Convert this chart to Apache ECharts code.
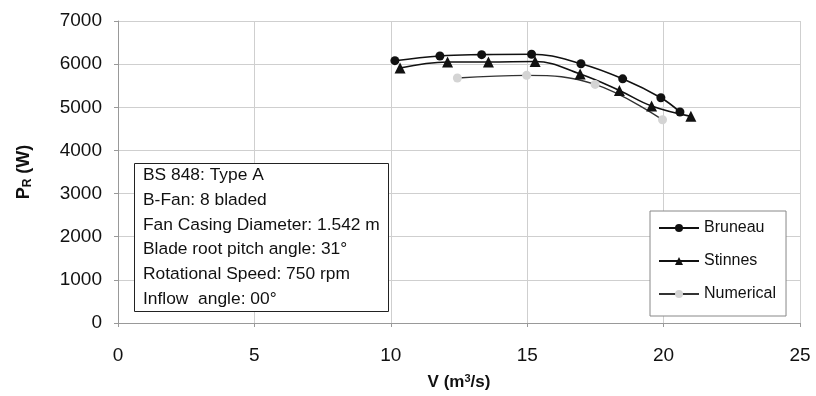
<!DOCTYPE html>
<html><head><meta charset="utf-8">
<script src="https://cdn.jsdelivr.net/npm/echarts@6/dist/echarts.min.js"></script>
<style>html,body{margin:0;padding:0;background:#fff}#c{width:816px;height:396px}</style>
</head><body><div id="c"></div>
<script>
var bruneauV = [10.15, 11.8, 13.33, 15.16, 16.97, 18.5, 19.9, 20.6];
var bruneauP = [6080, 6190, 6220, 6230, 6010, 5660, 5220, 4890];
var stinnesV = [10.34, 12.08, 13.58, 15.29, 16.94, 18.38, 19.56, 21.0];
var stinnesP = [5910, 6050, 6050, 6060, 5770, 5390, 5030, 4790];
var numericalV = [12.44, 14.98, 17.49, 19.96];
var numericalP = [5680, 5740, 5530, 4710];
var xTicks = [0, 5, 10, 15, 20, 25];
var yTicks = [0, 1000, 2000, 3000, 4000, 5000, 6000, 7000];
var infoLines = ['BS 848: Type A', 'B-Fan: 8 bladed', 'Fan Casing Diameter: 1.542 m',
  'Blade root pitch angle: 31°', 'Rotational Speed: 750 rpm', 'Inflow  angle: 00°'];

function pairs(a, b) { return a.map(function (v, i) { return [v, b[i]]; }); }
var font = 'Liberation Sans, Arial, sans-serif';
var chart = echarts.init(document.getElementById('c'), null, {renderer: 'canvas'});
chart.setOption({
  animation: false,
  backgroundColor: '#fff',
  grid: {left: 118, right: 16, top: 21, bottom: 71},
  xAxis: {
    type: 'value', min: xTicks[0], max: xTicks[xTicks.length - 1], interval: 5,
    name: 'V (m{s|3}/s)', nameLocation: 'middle', nameGap: 50,
    nameTextStyle: {fontFamily: font, fontSize: 17, fontWeight: 'bold', color: '#111',
      rich: {s: {fontFamily: font, fontSize: 11, fontWeight: 'bold', verticalAlign: 'top', padding: [0, 0, 8, 0], color: '#111'}}},
    axisLine: {lineStyle: {color: '#999', width: 1}},
    axisTick: {show: true, length: 4, lineStyle: {color: '#999'}},
    axisLabel: {fontFamily: font, fontSize: 19, color: '#111', margin: 23,
      formatter: function (v) { return String(v); }},
    splitLine: {show: true, lineStyle: {color: '#cfcfcf', width: 1}}
  },
  yAxis: {
    type: 'value', min: yTicks[0], max: yTicks[yTicks.length - 1], interval: 1000,
    name: 'P{sub|R} (W)', nameLocation: 'middle', nameGap: 84, nameRotate: 90,
    nameTextStyle: {fontFamily: font, fontSize: 18, fontWeight: 'bold', color: '#111',
      rich: {sub: {fontFamily: font, fontSize: 12, fontWeight: 'bold', verticalAlign: 'bottom', color: '#111', padding: [8, 0, 0, 0]}}},
    axisLine: {show: true, lineStyle: {color: '#999', width: 1}},
    axisTick: {show: true, length: 4, lineStyle: {color: '#999'}},
    axisLabel: {fontFamily: font, fontSize: 19, color: '#111', margin: 16,
      formatter: function (v) { return String(v); }},
    splitLine: {show: true, lineStyle: {color: '#cfcfcf', width: 1}}
  },
  legend: {
    orient: 'vertical', left: 650, top: 211,
    itemWidth: 40, itemHeight: 10, itemGap: 13,
    padding: [7, 10, 12, 8],
    backgroundColor: '#fff', borderColor: '#888', borderWidth: 1,
    textStyle: {fontFamily: font, fontSize: 16, color: '#111', lineHeight: 20},
    data: ['Bruneau', 'Stinnes', 'Numerical']
  },
  title: {
    text: infoLines.join('\n'),
    left: 134, top: 163,
    padding: [0, 9, 1, 9],
    borderColor: '#222', borderWidth: 1, backgroundColor: '#fff',
    textStyle: {fontFamily: font, fontSize: 17.4, fontWeight: 'normal', color: '#111', lineHeight: 24.7}
  },
  series: [
    {name: 'Bruneau', type: 'line', smooth: 0.4, data: pairs(bruneauV, bruneauP),
      symbol: 'circle', symbolSize: 9, lineStyle: {color: '#111', width: 1.6},
      itemStyle: {color: '#111'}},
    {name: 'Stinnes', type: 'line', smooth: 0.4, data: pairs(stinnesV, stinnesP),
      symbol: 'triangle', symbolSize: 11, lineStyle: {color: '#111', width: 1.6},
      itemStyle: {color: '#111'}},
    {name: 'Numerical', type: 'line', smooth: 0.4, data: pairs(numericalV, numericalP),
      symbol: 'circle', symbolSize: 9, lineStyle: {color: '#333', width: 1.4},
      itemStyle: {color: '#d4d4d4', borderWidth: 0}}
  ]
});
</script></body></html>
